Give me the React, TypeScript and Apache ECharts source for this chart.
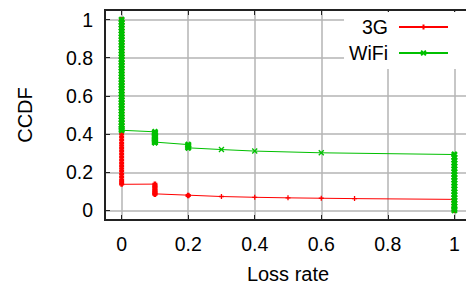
import React, { useEffect, useRef } from "react";
import * as echarts from "echarts";

// Loss rate (x) and CCDF (y) samples for 3G
const lossRate3G = [
  0, 0, 0, 0, 0, 0, 0, 0, 0, 0, 0, 0, 0, 0, 0, 0, 0, 0, 0, 0,
  0, 0, 0, 0, 0, 0, 0, 0, 0, 0, 0, 0, 0, 0, 0, 0, 0, 0, 0, 0,
  0, 0, 0, 0, 0, 0, 0, 0, 0, 0, 0, 0, 0, 0, 0, 0, 0, 0, 0,
  0.1, 0.1, 0.1, 0.1, 0.1, 0.1, 0.1, 0.1, 0.1, 0.1,
  0.2, 0.2, 0.3, 0.4, 0.5, 0.6, 0.7,
  1, 1, 1, 1, 1, 1, 1,
];
const ccdf3G = [
  1, 0.985, 0.97, 0.955, 0.94, 0.925, 0.91, 0.895, 0.88, 0.865, 0.85, 0.835, 0.82, 0.805, 0.79, 0.775, 0.76, 0.745, 0.73, 0.715,
  0.7, 0.685, 0.67, 0.655, 0.64, 0.625, 0.61, 0.595, 0.58, 0.565, 0.55, 0.535, 0.52, 0.505, 0.49, 0.475, 0.46, 0.445, 0.43, 0.415,
  0.4, 0.385, 0.37, 0.355, 0.34, 0.325, 0.31, 0.295, 0.28, 0.265, 0.25, 0.235, 0.22, 0.205, 0.19, 0.175, 0.16, 0.148, 0.137,
  0.138, 0.13, 0.124, 0.117, 0.11, 0.104, 0.098, 0.092, 0.087, 0.084,
  0.08, 0.077, 0.073, 0.069, 0.066, 0.064, 0.062,
  0.058, 0.048, 0.038, 0.028, 0.018, 0.008, 0,
];

// Loss rate (x) and CCDF (y) samples for WiFi
const lossRateWiFi = [
  0, 0, 0, 0, 0, 0, 0, 0, 0, 0, 0, 0, 0, 0, 0, 0, 0, 0, 0, 0,
  0, 0, 0, 0, 0, 0, 0, 0, 0, 0, 0, 0, 0, 0, 0, 0, 0, 0, 0, 0,
  0.1, 0.1, 0.1, 0.1, 0.1, 0.1, 0.1, 0.1, 0.1, 0.1,
  0.2, 0.2, 0.2, 0.2, 0.3, 0.4, 0.6,
  1, 1, 1, 1, 1, 1, 1, 1, 1, 1, 1, 1, 1, 1, 1, 1, 1, 1, 1, 1, 1,
];
const ccdfWiFi = [
  1, 0.985, 0.97, 0.955, 0.94, 0.925, 0.91, 0.895, 0.88, 0.865, 0.85, 0.835, 0.82, 0.805, 0.79, 0.775, 0.76, 0.745, 0.73, 0.715,
  0.7, 0.685, 0.67, 0.655, 0.64, 0.625, 0.61, 0.595, 0.58, 0.565, 0.55, 0.535, 0.52, 0.505, 0.49, 0.475, 0.46, 0.445, 0.43, 0.42,
  0.412, 0.405, 0.398, 0.391, 0.384, 0.377, 0.37, 0.364, 0.358, 0.355,
  0.345, 0.34, 0.334, 0.328, 0.319, 0.311, 0.302,
  0.293, 0.278, 0.263, 0.248, 0.233, 0.218, 0.203, 0.188, 0.173, 0.158, 0.143, 0.128, 0.113, 0.098, 0.083, 0.068, 0.053, 0.038, 0.023, 0.01, 0,
];

const xTicks = [0, 0.2, 0.4, 0.6, 0.8, 1];
const yTicks = [0, 0.2, 0.4, 0.6, 0.8, 1];
const seriesNames = ["3G", "WiFi"];
const xName = "Loss rate";
const yName = "CCDF";

const FONT = "Liberation Sans, Arial, sans-serif";
const plusSymbol = "path://M5,0L5,10M0,5L10,5";
const crossSymbol = "path://M0,0L10,10M10,0L0,10";

// Points sharing their loss rate with a neighbour form the dense vertical bands;
// their markers are stroked heavier so that the overlapping marks read as a solid band.
function buildData(xs: number[], ys: number[]) {
  return xs.map((x, i) => {
    const dense = (i > 0 && xs[i - 1] === x) || (i < xs.length - 1 && xs[i + 1] === x);
    return dense
      ? { value: [x, ys[i]], itemStyle: { borderWidth: 2.6 } }
      : { value: [x, ys[i]] };
  });
}

export default function App() {
  const ref = useRef<HTMLDivElement>(null);
  useEffect(() => {
    if (!ref.current) return;
    const chart = echarts.init(ref.current, null, { renderer: "svg" });
    const fmt = (v: number) => (Math.abs(v - Math.round(v * 5) / 5) < 1e-9 ? String(+v.toFixed(1)) : "");
    chart.setOption({
      animation: false,
      backgroundColor: "#fff",
      textStyle: { fontFamily: FONT },
      grid: {
        left: 105,
        top: 10,
        right: -5,
        bottom: 66,
        outerBoundsMode: "none",
        containLabel: false,
        show: true,
        borderColor: "#222",
        borderWidth: 2,
        backgroundColor: "transparent",
      },
      legend: {
        data: seriesNames,
        orient: "vertical",
        right: 0,
        top: 12,
        align: "right",
        itemWidth: 49,
        itemHeight: 6,
        itemGap: 6,
        padding: [5, 17, 6, 5],
        backgroundColor: "#fff",
        selectedMode: false,
        textStyle: { fontSize: 19.5, color: "#000", fontFamily: FONT, padding: [0, 6, 0, 0] },
      },
      xAxis: [
        {
          type: "value",
          min: -0.05,
          max: 1.05,
          name: xName,
          nameLocation: "middle",
          nameGap: 54,
          nameMoveOverlap: false,
          nameTextStyle: { fontSize: 20, lineHeight: 18, color: "#000", fontFamily: FONT, verticalAlign: "middle" },
          axisLine: { show: true, onZero: false, lineStyle: { color: "#222", width: 2 } },
          axisTick: { show: true, inside: true, length: 5, customValues: xTicks, lineStyle: { color: "#222" } },
          axisLabel: { customValues: xTicks, formatter: fmt, fontSize: 19.5, color: "#000", margin: 14, fontFamily: FONT },
          splitLine: { show: true, lineStyle: { color: "#b4b4b4", width: 1.5 } },
        },
        {
          type: "value",
          position: "top",
          min: -0.05,
          max: 1.05,
          axisLine: { show: true, onZero: false, lineStyle: { color: "#222", width: 2 } },
          axisTick: { show: true, inside: true, length: 5, customValues: xTicks, lineStyle: { color: "#222" } },
          axisLabel: { show: false },
          splitLine: { show: false },
        },
      ],
      yAxis: {
        type: "value",
        min: -0.05,
        max: 1.05,
        name: yName,
        nameLocation: "middle",
        nameGap: 80,
        nameRotate: 90,
        nameMoveOverlap: false,
        nameTextStyle: { fontSize: 20, color: "#000", fontFamily: FONT, verticalAlign: "middle" },
        axisLine: { show: true, onZero: false, lineStyle: { color: "#222", width: 2 } },
        axisTick: { show: true, inside: true, length: 5, customValues: yTicks, lineStyle: { color: "#222" } },
        axisLabel: { customValues: yTicks, formatter: fmt, fontSize: 19.5, color: "#000", margin: 12, fontFamily: FONT },
        splitLine: { show: true, lineStyle: { color: "#b4b4b4", width: 1.5 } },
      },
      series: [
        {
          name: seriesNames[0],
          type: "line",
          data: buildData(lossRate3G, ccdf3G),
          symbol: plusSymbol,
          symbolSize: 5,
          showAllSymbol: true,
          lineStyle: { color: "#ff0000", width: 1 },
          itemStyle: { color: "#ff0000", borderColor: "#ff0000", borderWidth: 1.3 },
          z: 2,
        },
        {
          name: seriesNames[1],
          type: "line",
          data: buildData(lossRateWiFi, ccdfWiFi),
          symbol: crossSymbol,
          symbolSize: 5,
          showAllSymbol: true,
          lineStyle: { color: "#00c000", width: 1 },
          itemStyle: { color: "#00c000", borderColor: "#00c000", borderWidth: 1.3 },
          z: 3,
        },
      ],
    });
    return () => chart.dispose();
  }, []);
  return <div ref={ref} style={{ width: 466, height: 286, position: "fixed", left: 0, top: 0 }} />;
}
